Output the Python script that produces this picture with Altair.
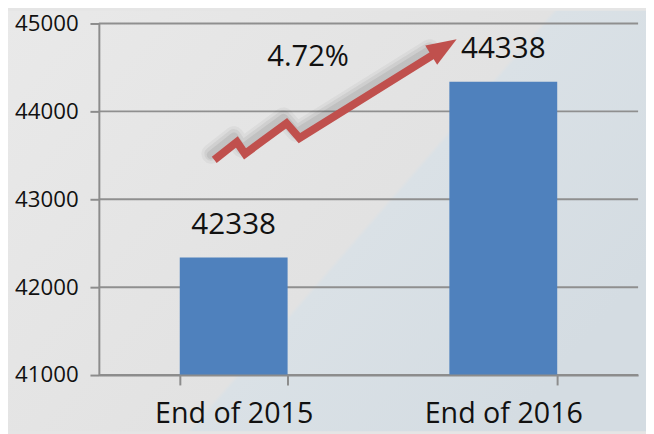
import altair as alt
import pandas as pd

# ---- data ----
categories = ["End of 2015", "End of 2016"]
values = [42338, 44338]
y_ticks = [41000, 42000, 43000, 44000, 45000]
growth_label = ["4.72%"]
growth_pos_x = [0.388]
growth_pos_y = [44618]
# zig-zag arrow path (x as fraction of plot width, y in data units)
arrow_x = [0.214, 0.256, 0.271, 0.348, 0.372, 0.619]
arrow_y = [43449, 43652, 43517, 43865, 43697, 44640]
head_x = [0.634]
head_y = [44708]

W, H = 546, 356
TOP = 13
FONT = "Open Sans"
HEAD_SHAPE = "M0,-1L-0.6,0.6L0.6,0.6Z"

bars_df = pd.DataFrame({"cat": categories, "val": values})
grid_df = pd.DataFrame({"v": y_ticks})
arrow_df = pd.DataFrame({"ax": arrow_x, "ay": arrow_y, "i": list(range(len(arrow_x)))})
head_df = pd.DataFrame({"hx": head_x, "hy": head_y})
growth_df = pd.DataFrame({"gx": growth_pos_x, "gy": growth_pos_y, "t": growth_label})
bg_df = pd.DataFrame({"k": [0]})

y_scale = alt.Scale(domain=[41000, 45000], nice=False, zero=False)
y_axis = alt.Axis(values=y_ticks, format="d", title=None, grid=False, zindex=1,
                  domainColor="#8c8c8c", domainWidth=2, tickColor="#8c8c8c",
                  tickWidth=2, tickSize=9, labelPadding=12, labelFontSize=22.5,
                  labelFont=FONT, labelColor="#111111")
x_scale = alt.Scale(type="band", paddingInner=0.6, paddingOuter=0.3)
u_scale = alt.Scale(domain=[0, 1], nice=False, zero=False)

grad = {
    "gradient": "linear", "x1": 0, "y1": 0, "x2": 1.02, "y2": 0.585,
    "stops": [
        {"offset": 0, "color": "#e9e9e9"},
        {"offset": 0.63, "color": "#e2e2e2"},
        {"offset": 0.636, "color": "#dae1e6"},
        {"offset": 1, "color": "#d4dce2"},
    ],
}

bg = alt.Chart(bg_df).mark_rect(fill=grad).encode(
    x=alt.value(-92), x2=alt.value(W + 8), y=alt.value(-TOP), y2=alt.value(H + 57)
)

grid = alt.Chart(grid_df).mark_rule(color="#8f8f8f", strokeWidth=2).encode(
    y=alt.Y("v:Q", scale=y_scale, axis=y_axis),
    x=alt.value(0), x2=alt.value(W),
)

bars = alt.Chart(bars_df).mark_bar(color="#4F81BD", clip=True).encode(
    x=alt.X("cat:N", scale=x_scale, sort=categories,
            axis=alt.Axis(title=None, labelAngle=0, zindex=1, domainColor="#8c8c8c",
                          domainWidth=2, tickColor="#8c8c8c", tickWidth=2, tickSize=10,
                          tickBand="extent", labelFontSize=29, labelFont=FONT,
                          labelColor="#111111", labelPadding=15)),
    y=alt.Y("val:Q", scale=y_scale, axis=y_axis),
)

labels = alt.Chart(bars_df).mark_text(fontSize=30, font=FONT, color="#111111",
                                      baseline="alphabetic", dy=-24).encode(
    x=alt.X("cat:N", scale=x_scale, sort=categories, axis=None),
    y=alt.Y("val:Q", scale=y_scale, axis=y_axis),
    text="val:Q",
)

def shadow_layer(width, op, dx, dy):
    return alt.Chart(arrow_df).mark_line(color="#333333", opacity=op, strokeWidth=width,
                                         strokeJoin="round", strokeCap="round",
                                         xOffset=dx, yOffset=dy).encode(
        x=alt.X("ax:Q", scale=u_scale, axis=None),
        y=alt.Y("ay:Q", scale=y_scale, axis=y_axis),
        order="i:O",
    )

shadows = [shadow_layer(20, 0.05, -3, -6), shadow_layer(14, 0.07, -3, -6),
           shadow_layer(9, 0.09, -3, -5)]

arrow = alt.Chart(arrow_df).mark_line(color="#C0504D", strokeWidth=8,
                                      strokeJoin="miter").encode(
    x=alt.X("ax:Q", scale=u_scale, axis=None),
    y=alt.Y("ay:Q", scale=y_scale, axis=y_axis),
    order="i:O",
)
head = alt.Chart(head_df).mark_point(shape=HEAD_SHAPE, filled=True, color="#C0504D",
                                     opacity=1, size=1444, angle=58, strokeWidth=0).encode(
    x=alt.X("hx:Q", scale=u_scale, axis=None),
    y=alt.Y("hy:Q", scale=y_scale, axis=y_axis),
)
growth = alt.Chart(growth_df).mark_text(fontSize=29.5, font=FONT, color="#111111",
                                        baseline="middle").encode(
    x=alt.X("gx:Q", scale=u_scale, axis=None),
    y=alt.Y("gy:Q", scale=y_scale, axis=y_axis),
    text="t:N",
)

chart = alt.layer(bg, grid, bars, labels, *shadows, arrow, head, growth).resolve_scale(
    x="independent"
).properties(
    width=W, height=H,
    autosize=alt.AutoSizeParams(type="none"),
    padding={"left": 92, "top": TOP, "right": 8, "bottom": 57},
    background="#e5e5e5",
).configure_view(strokeWidth=0)

chart.save("out.html", embed_options={"renderer": "svg", "actions": False})
